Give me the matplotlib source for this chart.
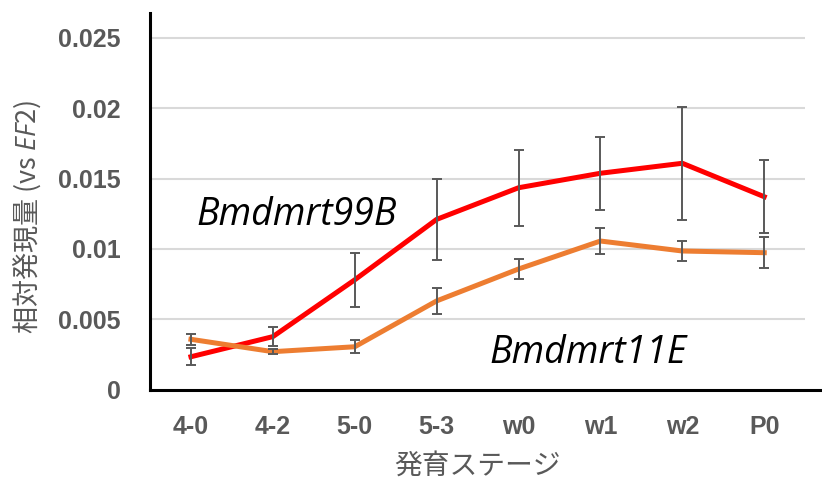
import matplotlib
matplotlib.use("Agg")
import matplotlib.pyplot as plt

plt.rcParams['font.family'] = ['Open Sans', 'Noto Sans CJK JP', 'DejaVu Sans']
plt.rcParams['mathtext.fontset'] = 'custom'
plt.rcParams['mathtext.it'] = 'Open Sans:italic'
plt.rcParams['mathtext.rm'] = 'Noto Sans CJK JP'

stages = ["4-0", "4-2", "5-0", "5-3", "w0", "w1", "w2", "P0"]

b99_mean = [0.00233, 0.00376, 0.0078, 0.0121, 0.01435, 0.01538, 0.01609, 0.01371]
b99_err = [0.0006, 0.0007, 0.0019, 0.0029, 0.0027, 0.0026, 0.0040, 0.0026]

b11_mean = [0.00357, 0.00269, 0.00304, 0.0063, 0.00857, 0.01056, 0.00985, 0.00973]
b11_err = [0.0004, 0.0002, 0.00045, 0.00093, 0.0007, 0.0009, 0.0007, 0.0011]

yticks = [0, 0.005, 0.01, 0.015, 0.02, 0.025]
ytick_labels = ["0", "0.005", "0.01", "0.015", "0.02", "0.025"]

GRAY = "#595959"
TICK_FONT = ["Liberation Sans", "DejaVu Sans"]
x = list(range(len(stages)))

fig = plt.figure(figsize=(8.22, 4.86), dpi=100)
ax = fig.add_axes([150 / 822, 1 - 389.5 / 486, 670 / 822, 376.5 / 486])

# horizontal grid stops a bit before the end of the bottom axis line
ax.hlines(yticks[1:], -0.5, 7.5, color="#D9D9D9", lw=1.5, zorder=1)

ax.plot(x, b99_mean, color="#FF0000", lw=3.6, zorder=3)
ax.plot(x, b11_mean, color="#ED7D31", lw=3.6, zorder=3)
for m, e in [(b99_mean, b99_err), (b11_mean, b11_err)]:
    ax.errorbar(x, m, yerr=e, fmt="none", ecolor=GRAY, elinewidth=1.4,
                capsize=3.3, capthick=1.4, zorder=4)

ax.set_xlim(-0.5, -0.5 + 670 / 81.9)
ax.set_ylim(0, 376.5 / 14060)
ax.set_xticks(x)
ax.set_xticklabels(stages)
ax.set_yticks(yticks)
ax.set_yticklabels(ytick_labels)
ax.tick_params(axis="both", length=0, labelsize=18, labelcolor=GRAY)
ax.tick_params(axis="y", pad=21)
ax.tick_params(axis="x", pad=18)
for lbl in ax.get_xticklabels() + ax.get_yticklabels():
    lbl.set_fontweight("bold")
    lbl.set_family(TICK_FONT)

for s in ["top", "right"]:
    ax.spines[s].set_visible(False)
ax.spines["left"].set_linewidth(2.2)
ax.spines["bottom"].set_linewidth(2.2)

ax.set_ylabel(r"相対発現量 (vs $\mathit{EF2}$)", fontsize=19.5, color=GRAY,
              family=["Noto Sans CJK JP"])
ax.yaxis.set_label_coords(-(150 - 27) / 670, (389.5 - 217) / 376.5)
ax.set_xlabel("発育ステージ", fontsize=20, color=GRAY,
              family=["Noto Sans CJK JP"])
ax.xaxis.set_label_coords(327.5 / 670, -(466 - 389.5) / 376.5)
ax.xaxis.label.set_va("center")
ax.yaxis.label.set_va("center")

ax.text(0.07, 0.0117, "Bmdmrt99B", style="italic", fontsize=27, color="black",
        va="baseline")
ax.text(3.64, 0.00188, "Bmdmrt11E", style="italic", fontsize=27, color="black",
        va="baseline")

fig.savefig("out.png", dpi=100)
